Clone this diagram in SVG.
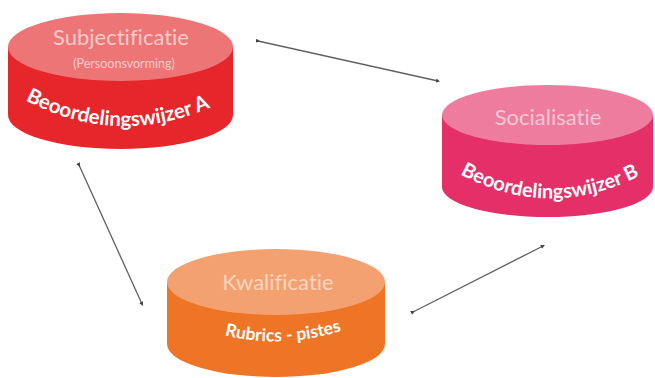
<svg xmlns="http://www.w3.org/2000/svg" width="655" height="378" viewBox="0 0 655 378">
  <defs>
    <style>
      text { font-variant-ligatures: none; }
      .title { font-family: Lato, "Liberation Sans", sans-serif; font-size: 22px; text-anchor: middle; }
      .sub { font-family: Lato, "Liberation Sans", sans-serif; font-size: 12.5px; text-anchor: middle; }
      .bold { font-family: Lato, "Liberation Sans", sans-serif; font-weight: bold; fill: #ffffff; }
      .conn { stroke: #606060; stroke-width: 1.3; fill: none; marker-start: url(#dot); marker-end: url(#dot); }
    </style>
    <marker id="dot" viewBox="0 0 6 6" refX="3" refY="3" markerWidth="3.2" markerHeight="3.2" orient="auto">
      <path d="M0,0 L6,3 L0,6 Z" fill="#444"/>
    </marker>
    <path id="arcA" d="M 16,95 Q 116,153 220,103"/>
    <path id="arcB" d="M 448,167 Q 548,229 652,169"/>
    <path id="arcC" d="M 216,333 Q 282,352 350,328"/>
  </defs>

  <rect width="655" height="378" fill="#ffffff"/>

  <g id="connectors">
    <line class="conn" x1="258" y1="41" x2="438" y2="81"/>
    <line class="conn" x1="79" y1="165" x2="142" y2="304"/>
    <line class="conn" x1="413" y1="312" x2="543" y2="246"/>
  </g>

  <g id="subjectificatie">
    <path d="M 8,47 L 8,115 A 112.5,34 0 0 0 233,115 L 233,47 Z" fill="#e6262b"/>
    <ellipse cx="120.5" cy="47" rx="112.5" ry="34" fill="#ee7576"/>
    <text class="title" x="121" y="45" fill="#f8cccc">Subjectificatie</text>
    <text class="sub" x="124" y="68" fill="#f8cccc">(Persoonsvorming)</text>
    <text class="bold" font-size="20.5"><textPath href="#arcA" startOffset="50%" text-anchor="middle">Beoordelingswijzer A</textPath></text>
  </g>

  <g id="socialisatie">
    <path d="M 442,115 L 442,187 A 105.5,30 0 0 0 653,187 L 653,115 Z" fill="#e42f69"/>
    <ellipse cx="547.5" cy="115" rx="105.5" ry="30" fill="#ee7c9f"/>
    <text class="title" x="548" y="125" fill="#f8c8d6">Socialisatie</text>
    <text class="bold" font-size="20"><textPath href="#arcB" startOffset="50%" text-anchor="middle">Beoordelingswijzer B</textPath></text>
  </g>

  <g id="kwalificatie">
    <path d="M 167,282 L 167,344 A 109,33 0 0 0 385,344 L 385,282 Z" fill="#ef7526"/>
    <ellipse cx="276" cy="282" rx="109" ry="33" fill="#f4a172"/>
    <text class="title" x="278" y="290" fill="#fbd6c0">Kwalificatie</text>
    <text class="bold" font-size="17.5"><textPath href="#arcC" startOffset="50%" text-anchor="middle">Rubrics - pistes</textPath></text>
  </g>
</svg>
